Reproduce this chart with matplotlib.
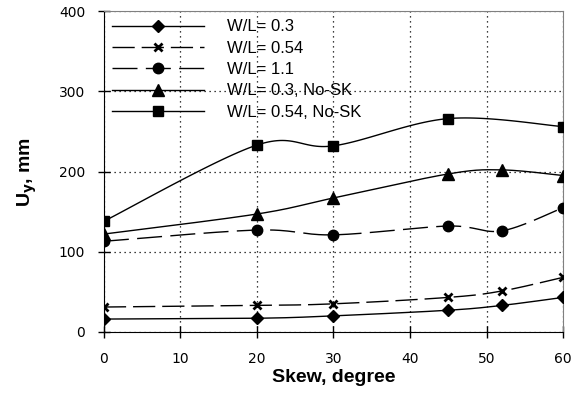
import numpy as np
import matplotlib
matplotlib.use('Agg')
import matplotlib.pyplot as plt
from matplotlib.lines import Line2D

skew = [0, 20, 30, 45, 52, 60]
skew_sq = [0, 20, 30, 45, 60]
wl_03 = [16, 17, 20, 27, 33, 43]
wl_054 = [31, 33, 35, 43, 51, 68]
wl_11 = [113, 127, 121, 132, 126, 155]
wl_03_nosk = [122, 147, 167, 197, 202, 195]
wl_054_nosk = [138, 233, 232, 266, 256]
labels = ['W/L= 0.3', 'W/L= 0.54', 'W/L= 1.1', 'W/L= 0.3, No-SK', 'W/L= 0.54, No-SK']


def smooth(x, y, n=30):
    # Excel-style smoothed line: bezier segments through the points
    x = np.asarray(x, float)
    y = np.asarray(y, float)
    px, py = [], []
    for i in range(len(x) - 1):
        x0, y0 = (x[i - 1], y[i - 1]) if i > 0 else (x[i], y[i])
        x3, y3 = (x[i + 2], y[i + 2]) if i + 2 < len(x) else (x[i + 1], y[i + 1])
        c1x = x[i] + (x[i + 1] - x0) / 6
        c1y = y[i] + (y[i + 1] - y0) / 6
        c2x = x[i + 1] - (x3 - x[i]) / 6
        c2y = y[i + 1] - (y3 - y[i]) / 6
        t = np.linspace(0, 1, n)
        b = [(1 - t) ** 3, 3 * (1 - t) ** 2 * t, 3 * (1 - t) * t ** 2, t ** 3]
        px.extend(b[0] * x[i] + b[1] * c1x + b[2] * c2x + b[3] * x[i + 1])
        py.extend(b[0] * y[i] + b[1] * c1y + b[2] * c2y + b[3] * y[i + 1])
    return px, py


fig = plt.figure(figsize=(5.74, 3.97), dpi=100)
ax = fig.add_axes([0.181, 0.164, 0.8, 0.808])

series = [
    (skew, wl_03, '-', 'D', 6, dict()),
    (skew, wl_054, (0, (16, 5)), 'x', 6, dict(markeredgewidth=2)),
    (skew, wl_11, (0, (18, 6)), 'o', 7.5, dict()),
    (skew, wl_03_nosk, '-', '^', 8, dict()),
    (skew_sq, wl_054_nosk, '-', 's', 6.5, dict()),
]
handles = []
for (x, y, ls, mk, ms, extra), lab in zip(series, labels):
    sx, sy = smooth(x, y)
    ax.plot(sx, sy, color='black', lw=1, ls=ls, zorder=3)
    ax.plot(x, y, ls='none', marker=mk, ms=ms, color='black', zorder=4, **extra)
    handles.append(Line2D([], [], color='black', lw=1, ls=ls, marker=mk, ms=ms, **extra))

ax.set_xlim(0, 60)
ax.set_ylim(0, 400)
ax.set_xticks(range(0, 61, 10))
ax.set_yticks(range(0, 401, 100))
ax.grid(True, color='black', ls=(0, (1, 3)), lw=0.9)
ax.tick_params(direction='inout', length=9, labelsize=10, width=1)
ax.tick_params(axis='x', pad=10)
ax.tick_params(axis='y', pad=9)
for s in ['top', 'right']:
    ax.spines[s].set_color('#808080')
ax.set_xlabel('Skew, degree', fontsize=14, fontweight='bold', family='Liberation Sans', labelpad=2)
ax.set_ylabel(r'U$_\mathbf{y}$, mm', fontsize=14, fontweight='bold', family='Liberation Sans', labelpad=14)

ax.legend(handles, labels, loc='upper left', frameon=False,
          prop={'family': 'Liberation Sans', 'size': 12},
          handlelength=5.5, handletextpad=1.4, labelspacing=0.38,
          borderaxespad=0.1, bbox_to_anchor=(0.0, 1.0))

fig.savefig('out.png', dpi=100)
